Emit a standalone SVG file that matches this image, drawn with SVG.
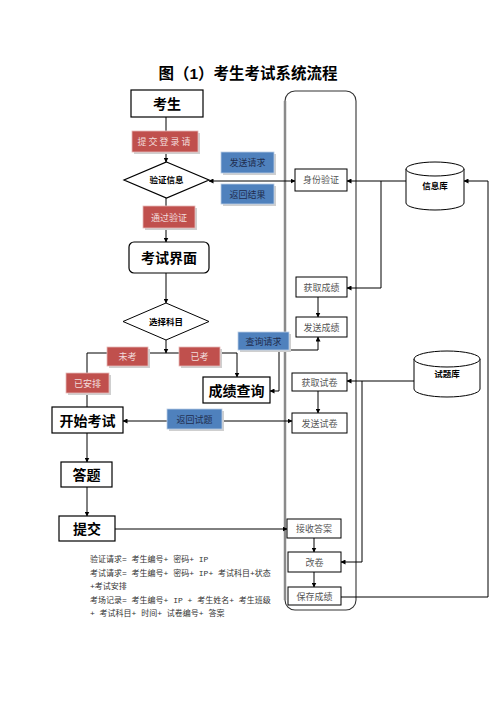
<svg xmlns="http://www.w3.org/2000/svg" width="496" height="702" viewBox="0 0 496 702">
<defs>
<marker id="ah" viewBox="0 0 10 10" refX="9" refY="5" markerWidth="5" markerHeight="5" orient="auto-start-reverse" markerUnits="userSpaceOnUse"><path d="M0,0 L10,5 L0,10 z" fill="#000"/></marker>
<style>
.bx{fill:#fff;stroke:#000;stroke-width:1.2}
.sb{fill:#fff;stroke:#000;stroke-width:1}
.red{fill:#C0504D;stroke:#E6B9B8;stroke-width:0.8}
.blue{fill:#4F81BD;stroke:#B9CDE5;stroke-width:0.8}
.sh{fill:#cfcfcf}
.ln{fill:none;stroke:#000;stroke-width:1}
.t{font-family:"Liberation Serif","Noto Sans CJK SC",serif;text-anchor:middle}
.big{font-family:"Liberation Sans","Noto Sans CJK SC",sans-serif;font-weight:bold;font-size:14px;text-anchor:middle}
.dia{font-family:"Liberation Sans","Noto Sans CJK SC",sans-serif;font-weight:bold;font-size:8.5px;text-anchor:middle}
.small{font-size:9px;fill:#555}
.rt{font-size:9px;fill:#F2DCDB}
.bt{font-size:9px;fill:#1F2D4E}
.note{font-family:"Liberation Mono","Noto Sans CJK SC",monospace;font-size:8px;fill:#333}
</style>
</defs>
<rect width="496" height="702" fill="#fff"/>
<text x="248" y="79" font-family="Liberation Sans,Noto Sans CJK SC,sans-serif" font-weight="bold" font-size="15.5" text-anchor="middle">图（1）考生考试系统流程</text>

<g id="lane">
<rect x="285" y="91" width="71" height="519" rx="10" fill="none" stroke="#333" stroke-width="1.1"/>
<line x1="285" y1="101" x2="285" y2="600" stroke="#8a8a8a" stroke-width="2.5"/>
</g>

<g id="connectors">
<path class="ln" d="M166,117 V162" marker-end="url(#ah)"/>
<path class="ln" d="M166,198 V242" marker-end="url(#ah)"/>
<path class="ln" d="M166,273 V303" marker-end="url(#ah)"/>
<path class="ln" d="M166,340 V353" marker-end="url(#ah)"/>
<path class="ln" d="M87,407 V353 H237 V377" marker-end="url(#ah)"/>
<path class="ln" d="M87,433 V462" marker-end="url(#ah)"/>
<path class="ln" d="M87,487 V516" marker-end="url(#ah)"/>
<path class="ln" d="M115,529 H287" marker-end="url(#ah)"/>
<path class="ln" d="M209,181 H295" marker-start="url(#ah)" marker-end="url(#ah)"/>
<path class="ln" d="M123,421 H292" marker-start="url(#ah)" marker-end="url(#ah)"/>
<path class="ln" d="M318,337 V350 H279 V391 H270" marker-start="url(#ah)" marker-end="url(#ah)"/>
<path class="ln" d="M406,181 H347" marker-end="url(#ah)"/>
<path class="ln" d="M381,181 V288 H347" marker-end="url(#ah)"/>
<path class="ln" d="M341,597 H488 V181 H464" marker-end="url(#ah)"/>
<path class="ln" d="M414,381 H347" marker-end="url(#ah)"/>
<path class="ln" d="M362,381 V562 H341" marker-end="url(#ah)"/>
<path class="ln" d="M318,297 V317" marker-end="url(#ah)"/>
<path class="ln" d="M318,391 V413" marker-end="url(#ah)"/>
<path class="ln" d="M314,538 V552" marker-end="url(#ah)"/>
<path class="ln" d="M314,572 V587" marker-end="url(#ah)"/>
</g>

<g id="n-kaosheng"><rect class="bx" x="131" y="90" width="72" height="27"/><text class="big" x="167" y="109">考生</text></g>
<g id="n-tijiao-dl"><rect class="sh" x="134" y="133" width="66" height="21"/><rect class="red" x="132" y="131" width="66" height="21"/><text class="t rt" x="165" y="145" letter-spacing="2">提交登录请</text></g>
<g id="n-yanzheng"><polygon class="bx" points="166.5,162 209,180 166.5,198 124,180"/><text class="dia" x="166.5" y="183">验证信息</text></g>
<g id="n-fasong-qq"><rect class="sh" x="223" y="154" width="53" height="21"/><rect class="blue" x="221" y="152" width="53" height="21"/><text class="t bt" x="247.5" y="166">发送请求</text></g>
<g id="n-fanhui-jg"><rect class="sh" x="223" y="186" width="53" height="20"/><rect class="blue" x="221" y="184" width="53" height="20"/><text class="t bt" x="247.5" y="197.5">返回结果</text></g>
<g id="n-tongguo"><rect class="sh" x="145" y="208" width="52" height="22"/><rect class="red" x="143" y="206" width="52" height="22"/><text class="t rt" x="169" y="220.5">通过验证</text></g>
<g id="n-jiemian"><rect class="bx" x="129" y="242" width="80" height="31" rx="5"/><text class="big" x="169" y="263">考试界面</text></g>
<g id="n-xuanze"><polygon class="sb" points="166,303 209,321.5 166,340 123,321.5"/><text class="dia" x="166" y="324.5">选择科目</text></g>
<g id="n-weikao"><rect class="sh" x="109" y="349" width="41" height="19"/><rect class="red" x="107" y="347" width="41" height="19"/><text class="t rt" x="127.5" y="360">未考</text></g>
<g id="n-yikao"><rect class="sh" x="181" y="349" width="41" height="19"/><rect class="red" x="179" y="347" width="41" height="19"/><text class="t rt" x="199.5" y="360">已考</text></g>
<g id="n-yianpai"><rect class="sh" x="68" y="375" width="43" height="20"/><rect class="red" x="66" y="373" width="43" height="20"/><text class="t rt" x="87.5" y="386.5">已安排</text></g>
<g id="n-chaxun-qq"><rect class="sh" x="240" y="334" width="51" height="18"/><rect class="blue" x="238" y="332" width="51" height="18"/><text class="t bt" x="263.5" y="344.5">查询请求</text></g>
<g id="n-chengji"><rect class="bx" x="203" y="377" width="67" height="26"/><text class="big" x="236.5" y="396">成绩查询</text></g>
<g id="n-kaishi"><rect class="bx" x="52" y="407" width="71" height="26"/><text class="big" x="87.5" y="426">开始考试</text></g>
<g id="n-fanhui-st"><rect class="sh" x="169" y="411" width="55" height="20"/><rect class="blue" x="167" y="409" width="55" height="20"/><text class="t bt" x="194.5" y="422.5">返回试题</text></g>
<g id="n-dati"><rect class="bx" x="61" y="462" width="51" height="25"/><text class="big" x="86.5" y="480">答题</text></g>
<g id="n-tijiao"><rect class="bx" x="59" y="516" width="56" height="25"/><text class="big" x="87" y="534">提交</text></g>

<g id="n-shenfen"><rect class="sb" x="295" y="169" width="52" height="22"/><text class="t small" x="321" y="183">身份验证</text></g>
<g id="n-huoqu-cj"><rect class="sb" x="296" y="277" width="51" height="20"/><text class="t small" x="321.5" y="290.5">获取成绩</text></g>
<g id="n-fasong-cj"><rect class="sb" x="296" y="317" width="51" height="20"/><text class="t small" x="321.5" y="330.5">发送成绩</text></g>
<g id="n-huoqu-sj"><rect class="sb" x="292" y="373" width="55" height="18"/><text class="t small" x="319.5" y="385.5">获取试卷</text></g>
<g id="n-fasong-sj"><rect class="sb" x="292" y="413" width="55" height="20"/><text class="t small" x="319.5" y="426.5">发送试卷</text></g>
<g id="n-jieshou"><rect class="sb" x="287" y="519" width="54" height="19"/><text class="t small" x="314" y="532">接收答案</text></g>
<g id="n-gaijuan"><rect class="sb" x="288" y="552" width="53" height="20"/><text class="t small" x="314.5" y="565.5">改卷</text></g>
<g id="n-baocun"><rect class="sb" x="288" y="587" width="53" height="18"/><text class="t small" x="314.5" y="599.5">保存成绩</text></g>

<g id="n-xinxiku">
<path d="M406,169 V203 A29,7 0 0 0 464,203 V169" fill="#fff" stroke="#000" stroke-width="1"/>
<ellipse cx="435" cy="169" rx="29" ry="7" fill="#fff" stroke="#000" stroke-width="1"/>
<text class="dia" x="435" y="189">信息库</text>
</g>
<g id="n-tiku">
<path d="M414,359 V389 A33,8 0 0 0 480,389 V359" fill="#fff" stroke="#000" stroke-width="1"/>
<ellipse cx="447" cy="359" rx="33" ry="8" fill="#fff" stroke="#000" stroke-width="1"/>
<text class="dia" x="447" y="377">试题库</text>
</g>

<g id="notes">
<text class="note" x="90" y="562">验证请求= 考生编号+ 密码+ IP</text>
<text class="note" x="90" y="575.5">考试请求= 考生编号+ 密码+ IP+ 考试科目+状态</text>
<text class="note" x="90" y="589">+考试安排</text>
<text class="note" x="90" y="602.5">考场记录= 考生编号+ IP + 考生姓名+ 考生班级</text>
<text class="note" x="90" y="616">+ 考试科目+ 时间+ 试卷编号+ 答案</text>
</g>
</svg>
